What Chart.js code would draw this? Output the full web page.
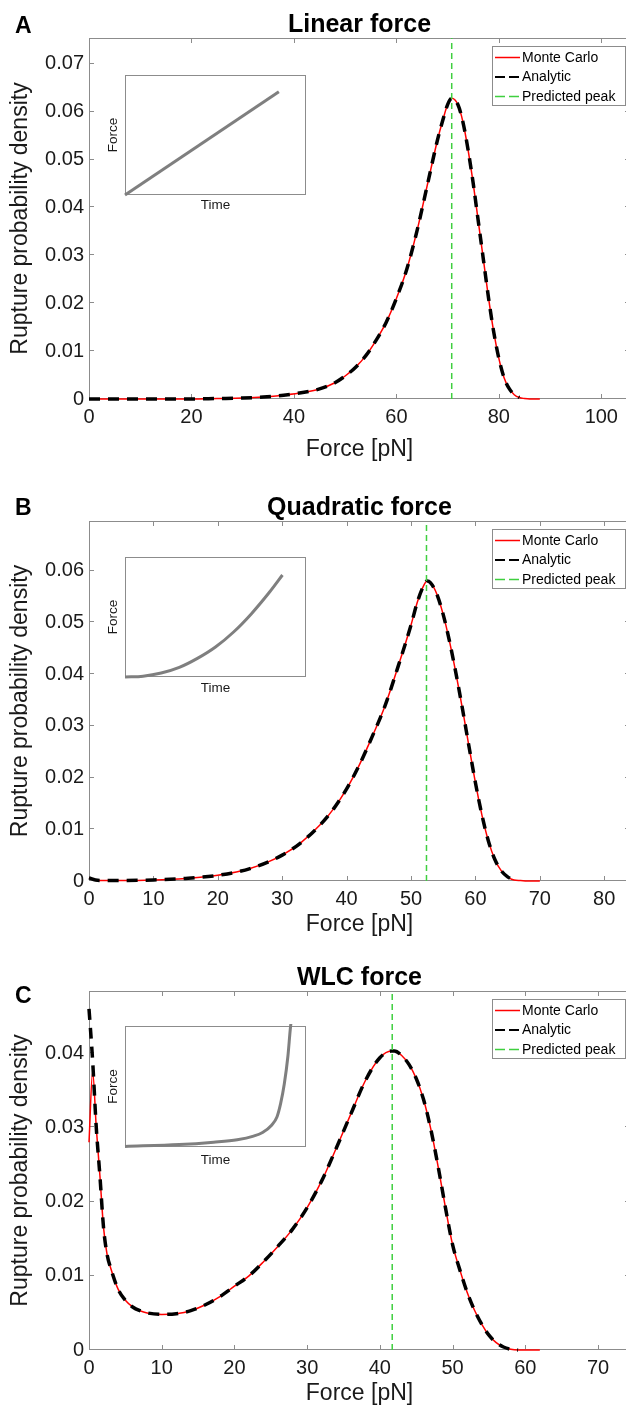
<!DOCTYPE html>
<html>
<head>
<meta charset="utf-8">
<script src="https://cdn.jsdelivr.net/npm/chart.js@4.4.0/dist/chart.umd.min.js"></script>
<style>
  html, body { margin: 0; padding: 0; background: #fff; overflow: hidden; }
  body { position: relative; width: 626px; height: 1408px; }
  canvas { position: absolute; left: 0; }
</style>
</head>
<body>
<canvas id="panel-a" width="630" height="470"></canvas>
<canvas id="panel-b" width="630" height="470"></canvas>
<canvas id="panel-c" width="630" height="468"></canvas>
<canvas id="inset-a"></canvas>
<canvas id="inset-b"></canvas>
<canvas id="inset-c"></canvas>
<script>
// ---- values ----

// A: linear force
const forceA = [0, 5, 10, 15, 20, 25, 30, 34, 38, 42, 45, 48, 50, 52, 54, 56, 58, 60, 62, 64, 66, 68, 69, 70,
                70.8, 72, 73, 74, 75, 76, 77, 78, 79, 80, 81, 82, 83, 84, 85, 86, 88];
const monteCarloA = [0, 0, 0, 0, 0, 0.0001, 0.0002, 0.0004, 0.0008, 0.0014, 0.0021, 0.0034, 0.0048, 0.0066,
                     0.009, 0.0122, 0.016, 0.021, 0.027, 0.035, 0.0445, 0.054, 0.058, 0.0615,
                     0.0628, 0.0615, 0.0578, 0.052, 0.045, 0.037, 0.029, 0.021, 0.014, 0.0085, 0.0045,
                     0.0022, 0.0009, 0.0003, 0.0001, 0, 0];
const analyticA = [0, 0, 0, 0, 0, 0.0001, 0.0002, 0.0004, 0.0008, 0.0014, 0.0021, 0.0034, 0.0048, 0.0066,
                   0.009, 0.0122, 0.016, 0.021, 0.027, 0.035, 0.0445, 0.054, 0.058, 0.0615,
                   0.0628, 0.0615, 0.0578, 0.052, 0.045, 0.037, 0.029, 0.021, 0.014, 0.0085, 0.0045,
                   0.0022, 0.0009, 0.0003, null, null, null];
const peakA = 70.8;

// B: quadratic force
const forceB = [0, 1, 2, 5, 10, 15, 20, 25, 30, 33, 36, 38, 40, 42, 44, 46, 48, 50, 51, 52, 52.5, 53, 54,
                55, 56, 57, 58, 59, 60, 61, 62, 63, 64, 65, 66, 67, 68, 70];
const monteCarloB = [0.0006, 0.0002, 0.0001, 0.0001, 0.0002, 0.0005, 0.0011, 0.0024, 0.005, 0.0075, 0.011,
                     0.014, 0.0178, 0.0225, 0.028, 0.034, 0.0415, 0.0495, 0.054, 0.0572, 0.058, 0.0577,
                     0.0555, 0.0515, 0.0462, 0.04, 0.0332, 0.026, 0.019, 0.0128, 0.0078, 0.0042, 0.002,
                     0.0008, 0.0002, 0.0001, 0, 0];
const analyticB = [0.0006, 0.0002, 0.0001, 0.0001, 0.0002, 0.0005, 0.0011, 0.0024, 0.005, 0.0075, 0.011,
                   0.014, 0.0178, 0.0225, 0.028, 0.034, 0.0415, 0.0495, 0.054, 0.0572, 0.058, 0.0577,
                   0.0555, 0.0515, 0.0462, 0.04, 0.0332, 0.026, 0.019, 0.0128, 0.0078, 0.0042, 0.002,
                   0.0008, 0.0002, null, null, null];
const peakB = 52.4;

// C: WLC force
const forceC = [0, 0.5, 1, 1.5, 2, 2.5, 3, 4, 5, 6, 7, 8, 10, 12, 14, 16, 18, 20, 22, 24, 26, 28, 30, 32, 34,
                36, 38, 40, 41.6, 42, 43, 44, 45, 46, 47, 48, 49, 50, 51, 52, 53, 54, 55, 56, 57, 58, 59,
                60, 62];
const monteCarloC = [0.028, 0.0375, 0.03, 0.0235, 0.0165, 0.0128, 0.011, 0.0082, 0.0067, 0.0058, 0.0053,
                     0.005, 0.0048, 0.0049, 0.0053, 0.0061, 0.0072, 0.0086, 0.01, 0.0119, 0.014, 0.0163,
                     0.0192, 0.0228, 0.0272, 0.0318, 0.0363, 0.0394, 0.0403, 0.0403, 0.0397, 0.0385,
                     0.0366, 0.0338, 0.0298, 0.0248, 0.0193, 0.0142, 0.0108, 0.0078, 0.0054, 0.0035,
                     0.002, 0.001, 0.0004, 0.0001, 0, 0, 0];
const analyticC = [0.046, 0.039, 0.03, 0.0235, 0.0165, 0.0128, 0.011, 0.0082, 0.0067, 0.0058, 0.0053,
                   0.005, 0.0048, 0.0049, 0.0053, 0.0061, 0.0072, 0.0086, 0.01, 0.0119, 0.014, 0.0163,
                   0.0192, 0.0228, 0.0272, 0.0318, 0.0363, 0.0394, 0.0403, 0.0403, 0.0397, 0.0385,
                   0.0366, 0.0338, 0.0298, 0.0248, 0.0193, 0.0142, 0.0108, 0.0078, 0.0054, 0.0035,
                   0.002, 0.001, 0.0004, 0.0001, 0, null, null];
const peakC = 41.7;

// axis limits and tick steps
const forceLimits = [105.6, 84, 74.4];
const forceTickSteps = [20, 10, 10];
const densityLimits = [0.0754, 0.0696, 0.0484];
const densityTickStep = 0.01;

// insets (normalised time / force of the loading protocol)
const insetTimeA = [0, 0.85];
const insetForceA = [0, 0.86];
const insetTimeB = [0, 0.1, 0.2, 0.3, 0.4, 0.5, 0.6, 0.7, 0.8, 0.87];
const insetForceB = [0, 0.007, 0.033, 0.08, 0.155, 0.25, 0.375, 0.53, 0.71, 0.85];
const insetTimeC = [0, 0.3, 0.49, 0.62, 0.71, 0.76, 0.81, 0.84, 0.86, 0.88, 0.9, 0.915, 0.925];
const insetForceC = [0.005, 0.02, 0.04, 0.06, 0.09, 0.12, 0.18, 0.25, 0.36, 0.52, 0.75, 1.0, 1.1];

// ---- drawing ----

const FONT = '"Liberation Sans", Arial, Helvetica, sans-serif';
const TEXT = '#1a1a1a';
const AXIS = '#8c8c8c';
Chart.defaults.font.family = FONT;
Chart.defaults.color = TEXT;

function points(xs, ys) {
    return xs.map((x, i) => ({x: x, y: ys[i]}));
}

// MATLAB style box around the axes, with inward ticks on all four sides
const matlabAxes = {
    id: 'matlabAxes',
    beforeDatasetsDraw(chart, args, opts) {
        const {ctx, chartArea: a} = chart;
        ctx.save();
        if (opts.fill) {
            ctx.fillStyle = opts.fill;
            ctx.fillRect(a.left, a.top, a.right - a.left, a.bottom - a.top);
        }
        ctx.strokeStyle = AXIS;
        ctx.lineWidth = 1;
        ctx.strokeRect(a.left + 0.5, a.top + 0.5, a.right - a.left - 1, a.bottom - a.top - 1);
        const len = opts.tickLength || 0;
        if (len) {
            const {x, y} = chart.scales;
            ctx.beginPath();
            x.ticks.forEach(t => {
                const px = Math.round(x.getPixelForValue(t.value)) + 0.5;
                ctx.moveTo(px, a.bottom); ctx.lineTo(px, a.bottom - len);
                ctx.moveTo(px, a.top); ctx.lineTo(px, a.top + len);
            });
            y.ticks.forEach(t => {
                const py = Math.round(y.getPixelForValue(t.value)) - 0.5;
                ctx.moveTo(a.left, py); ctx.lineTo(a.left + len, py);
                ctx.moveTo(a.right, py); ctx.lineTo(a.right - len, py);
            });
            ctx.stroke();
        }
        ctx.restore();
    }
};

// legend box in the upper right corner of the axes
const boxLegend = {
    id: 'boxLegend',
    afterDraw(chart, args, opts) {
        if (!opts.show) return;
        const {ctx, chartArea: a} = chart;
        const w = 133, h = 59;
        const left = a.right - 5 - w, top = a.top + 8;
        ctx.save();
        ctx.fillStyle = '#fff';
        ctx.fillRect(left, top, w, h);
        ctx.strokeStyle = AXIS;
        ctx.lineWidth = 1;
        ctx.strokeRect(left + 0.5, top + 0.5, w, h);
        ctx.font = '14px ' + FONT;
        ctx.textBaseline = 'middle';
        chart.data.datasets.forEach((ds, i) => {
            const y = top + 11.5 + i * 19.5;
            ctx.strokeStyle = ds.borderColor;
            ctx.lineWidth = Math.min(ds.borderWidth, 2);
            ctx.setLineDash(ds.borderDash ? [10, 4] : []);
            ctx.beginPath();
            ctx.moveTo(left + 3, y);
            ctx.lineTo(left + 28, y);
            ctx.stroke();
            ctx.setLineDash([]);
            ctx.fillStyle = '#000';
            ctx.fillText(ds.label, left + 30, y + 0.5);
        });
        ctx.restore();
    }
};

// panel letter and bold title centred over the axes
const panelText = {
    id: 'panelText',
    afterDraw(chart, args, opts) {
        const {ctx, chartArea: a} = chart;
        ctx.save();
        ctx.fillStyle = '#000';
        ctx.textBaseline = 'alphabetic';
        ctx.font = 'bold 25px ' + FONT;
        ctx.textAlign = 'center';
        ctx.fillText(opts.title, (a.left + a.right) / 2, opts.titleBase);
        ctx.textAlign = 'left';
        ctx.font = 'bold 23px ' + FONT;
        ctx.fillText(opts.letter, 15, opts.letterBase);
        ctx.restore();
    }
};

function makePanel(p) {
    const canvas = document.getElementById(p.id);
    canvas.style.top = p.top + 'px';
    const h = canvas.height;
    const rel = v => v - p.top;

    return new Chart(canvas, {
        type: 'line',
        data: {
            datasets: [
                {label: 'Monte Carlo', data: points(p.force, p.mc), borderColor: '#ff0000',
                 borderWidth: 1.5, order: 3, clip: 3},
                {label: 'Analytic', data: points(p.force, p.an), borderColor: '#000000',
                 borderWidth: 3.5, borderDash: [11, 8], order: 2, clip: 3},
                {label: 'Predicted peak', data: [{x: p.peak, y: 0}, {x: p.peak, y: p.yMax}],
                 borderColor: '#3fcf3f', borderWidth: 1.5, borderDash: [6, 4], order: 1,
                 cubicInterpolationMode: 'default', tension: 0}
            ]
        },
        options: {
            responsive: false,
            animation: false,
            devicePixelRatio: 1,
            events: [],
            elements: {
                point: {radius: 0},
                line: {cubicInterpolationMode: 'monotone', fill: false, borderCapStyle: 'butt'}
            },
            layout: {padding: {top: rel(p.plotTop), left: 0, right: 0, bottom: 0}},
            scales: {
                x: {
                    type: 'linear', min: 0, max: p.xMax,
                    ticks: {stepSize: p.xStep, includeBounds: false, padding: 6, color: TEXT,
                            font: {size: 20}, maxRotation: 0},
                    grid: {display: false, drawTicks: false},
                    border: {display: false},
                    title: {display: true, text: 'Force [pN]', color: TEXT,
                            font: {size: 23, lineHeight: 1},
                            padding: {top: 0, bottom: h - 11.5 - rel(p.xTitleY)}},
                    afterFit: s => { s.height = h - rel(p.plotBottom); }
                },
                y: {
                    type: 'linear', min: 0, max: p.yMax,
                    ticks: {stepSize: densityTickStep, includeBounds: false, padding: 5, color: TEXT,
                            font: {size: 20}},
                    grid: {display: false, drawTicks: false},
                    border: {display: false},
                    title: {display: true, text: 'Rupture probability density', color: TEXT,
                            font: {size: 23, lineHeight: 1}, padding: {top: 9.5, bottom: 0}},
                    afterFit: s => { s.width = 89; }
                }
            },
            plugins: {
                legend: {display: false},
                tooltip: {enabled: false},
                matlabAxes: {tickLength: 5},
                boxLegend: {show: true},
                panelText: {title: p.title, letter: p.letter,
                            titleBase: rel(p.titleBase), letterBase: rel(p.letterBase)}
            }
        },
        plugins: [matlabAxes, boxLegend, panelText]
    });
}

function makeInset(s) {
    const canvas = document.getElementById(s.id);
    const boxH = s.boxBottom - s.boxTop;
    const top = s.boxTop - 5;
    canvas.width = 215;
    canvas.height = boxH + 30;
    canvas.style.left = '95px';
    canvas.style.top = top + 'px';
    const h = canvas.height;

    return new Chart(canvas, {
        type: 'line',
        data: {
            datasets: [{data: points(s.time, s.force), borderColor: '#7f7f7f', borderWidth: 3,
                        clip: 2, cubicInterpolationMode: 'monotone'}]
        },
        options: {
            responsive: false,
            animation: false,
            devicePixelRatio: 1,
            events: [],
            elements: {point: {radius: 0}},
            layout: {padding: {top: 5, right: 4, left: 0, bottom: 0}},
            scales: {
                x: {
                    type: 'linear', min: 0, max: 1,
                    ticks: {display: false}, grid: {display: false, drawTicks: false},
                    border: {display: false},
                    title: {display: true, text: 'Time', color: TEXT, font: {size: 13.5, lineHeight: 1},
                            padding: {top: 0, bottom: h - 6.75 - (s.timeY - top)}},
                    afterFit: sc => { sc.height = 25; }
                },
                y: {
                    type: 'linear', min: 0, max: 1,
                    ticks: {display: false}, grid: {display: false, drawTicks: false},
                    border: {display: false},
                    title: {display: true, text: 'Force', color: TEXT, font: {size: 13.5, lineHeight: 1},
                            padding: {top: 11.25, bottom: 0}},
                    afterFit: sc => { sc.width = 30; }
                }
            },
            plugins: {
                legend: {display: false},
                tooltip: {enabled: false},
                matlabAxes: {fill: '#fff', tickLength: 0}
            }
        },
        plugins: [matlabAxes]
    });
}

const panels = [
    {id: 'panel-a', letter: 'A', title: 'Linear force', force: forceA, mc: monteCarloA, an: analyticA,
     peak: peakA, xMax: forceLimits[0], xStep: forceTickSteps[0], yMax: densityLimits[0],
     top: 0, plotTop: 38, plotBottom: 399, titleBase: 32, letterBase: 33, xTitleY: 450},
    {id: 'panel-b', letter: 'B', title: 'Quadratic force', force: forceB, mc: monteCarloB, an: analyticB,
     peak: peakB, xMax: forceLimits[1], xStep: forceTickSteps[1], yMax: densityLimits[1],
     top: 470, plotTop: 521, plotBottom: 881, titleBase: 515, letterBase: 515, xTitleY: 925},
    {id: 'panel-c', letter: 'C', title: 'WLC force', force: forceC, mc: monteCarloC, an: analyticC,
     peak: peakC, xMax: forceLimits[2], xStep: forceTickSteps[2], yMax: densityLimits[2],
     top: 940, plotTop: 991, plotBottom: 1350, titleBase: 985, letterBase: 1003, xTitleY: 1394}
];

const insets = [
    {id: 'inset-a', time: insetTimeA, force: insetForceA, boxTop: 75, boxBottom: 195, timeY: 205},
    {id: 'inset-b', time: insetTimeB, force: insetForceB, boxTop: 557, boxBottom: 677, timeY: 688},
    {id: 'inset-c', time: insetTimeC, force: insetForceC, boxTop: 1026, boxBottom: 1147, timeY: 1160}
];

panels.forEach(makePanel);
insets.forEach(makeInset);
</script>
</body>
</html>
